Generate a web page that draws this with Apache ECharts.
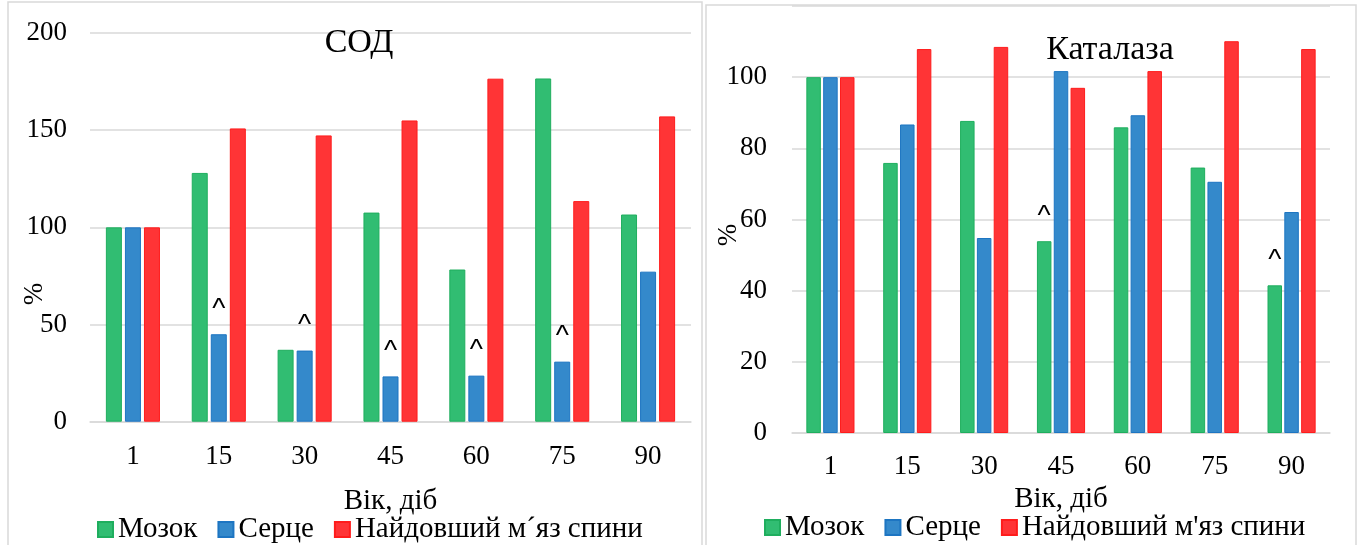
<!DOCTYPE html>
<html>
<head>
<meta charset="utf-8">
<script src="https://cdn.jsdelivr.net/npm/echarts@6/dist/echarts.min.js"></script>
<style>
  html, body { margin: 0; padding: 0; background: #ffffff; }
  #chart { width: 1363px; height: 545px; }
</style>
</head>
<body>
<div id="chart"></div>
<script>
// Age of animals, days
const categories = ['1', '15', '30', '45', '60', '75', '90'];

// SOD activity, % of day 1
const sodBrain  = [100, 128, 37, 107.6, 78.3, 176.6, 106.6];
const sodHeart  = [100, 45, 36.6, 23.3, 23.7, 30.9, 77.2];
const sodMuscle = [100, 150.9, 147.3, 155, 176.5, 113.5, 157.1];
// "^" significance marks on the heart bars
const sodHeartMarks = [0, 1, 1, 1, 1, 1, 0];

// Catalase activity, % of day 1
const catBrain  = [100, 75.9, 87.7, 53.9, 85.9, 74.6, 41.5];
const catHeart  = [100, 86.7, 54.8, 101.7, 89.3, 70.6, 62.1];
const catMuscle = [100, 107.9, 108.5, 97, 101.7, 110.1, 107.9];
// "^" significance marks on the brain bars
const catBrainMarks = [0, 0, 0, 1, 0, 0, 1];

const sodTicks = [0, 50, 100, 150, 200];
const catTicks = [0, 20, 40, 60, 80, 100];

const FONT = "'Liberation Serif', 'Times New Roman', serif";
const GREEN = { color: '#31bd72', borderColor: '#1fae5e', borderWidth: 1 };
const BLUE  = { color: '#3489cb', borderColor: '#1d75c2', borderWidth: 1 };
const RED   = { color: '#ff3436', borderColor: '#ff1c1c', borderWidth: 1 };

function withMarks(values, marks) {
  return values.map((v, i) => marks && marks[i]
    ? { value: v, label: { show: true } }
    : v);
}

const caretLabel = {
  show: false,
  position: 'top',
  distance: 11,
  formatter: '^',
  fontFamily: "'Liberation Sans', Arial, sans-serif",
  fontSize: 28,
  color: '#000'
};

function barSeries(name, values, style, axisIdx, width, gap, marks) {
  return {
    type: 'bar',
    name: name,
    xAxisIndex: axisIdx,
    yAxisIndex: axisIdx,
    barWidth: width,
    barGap: gap,
    itemStyle: style,
    label: caretLabel,
    emphasis: { disabled: true },
    data: withMarks(values, marks)
  };
}

const axisText = { fontFamily: FONT, fontSize: 27, color: '#000' };
const gridLine = { lineStyle: { color: '#d9d9d9', width: 1.5 } };
const legendText = { fontFamily: FONT, fontSize: 29, color: '#000' };

const LEFT_MUSCLE = 'Найдовший м\u00b4яз спини';
const RIGHT_MUSCLE = "Найдовший м'яз спини";

const option = {
  animation: false,
  backgroundColor: '#ffffff',
  textStyle: { fontFamily: FONT },
  title: [
    { text: 'СОД', left: 354, top: 21, textAlign: 'center',
      textStyle: { fontFamily: FONT, fontSize: 34, fontWeight: 'normal', color: '#000' } },
    { text: 'Каталаза', left: 1105, top: 28, textAlign: 'center',
      textStyle: { fontFamily: FONT, fontSize: 34, fontWeight: 'normal', color: '#000' } }
  ],
  legend: [
    {
      data: ['Мозок', 'Серце', LEFT_MUSCLE],
      left: 97, top: 515, padding: 0,
      icon: 'rect', itemWidth: 15, itemHeight: 15, itemGap: 20,
      textStyle: legendText
    },
    {
      data: ['Мозок', 'Серце', RIGHT_MUSCLE],
      left: 764, top: 513, padding: 0,
      icon: 'rect', itemWidth: 15, itemHeight: 15, itemGap: 20,
      textStyle: legendText
    }
  ],
  grid: [
    { left: 90, top: 33, width: 601, bottom: 123.3 },
    { left: 792, top: 6, width: 538, bottom: 112 }
  ],
  xAxis: [
    {
      type: 'category', gridIndex: 0, data: categories,
      axisLine: { lineStyle: { color: '#d9d9d9', width: 1.5 } },
      axisTick: { show: false },
      axisLabel: Object.assign({ margin: 22 }, axisText),
      name: 'Вік, діб', nameLocation: 'middle', nameGap: 65,
      nameTextStyle: legendText
    },
    {
      type: 'category', gridIndex: 1, data: categories,
      axisLine: { lineStyle: { color: '#d9d9d9', width: 1.5 } },
      axisTick: { show: false },
      axisLabel: Object.assign({ margin: 20 }, axisText),
      name: 'Вік, діб', nameLocation: 'middle', nameGap: 50,
      nameTextStyle: legendText
    }
  ],
  yAxis: [
    {
      type: 'value', gridIndex: 0,
      min: sodTicks[0], max: sodTicks[sodTicks.length - 1], interval: sodTicks[1] - sodTicks[0],
      axisLine: { show: false }, axisTick: { show: false },
      axisLabel: Object.assign({ margin: 23 }, axisText),
      splitLine: gridLine
    },
    {
      type: 'value', gridIndex: 1,
      min: catTicks[0], max: 120, interval: catTicks[1] - catTicks[0],
      axisLine: { show: false }, axisTick: { show: false },
      axisLabel: Object.assign({ margin: 25, showMaxLabel: false }, axisText),
      splitLine: gridLine
    }
  ],
  graphic: [
    // panel frames
    { type: 'rect', shape: { x: 8, y: 2, width: 694, height: 570 }, silent: true,
      style: { fill: 'none', stroke: '#d9d9d9', lineWidth: 1.5 } },
    { type: 'rect', shape: { x: 706, y: 5, width: 650, height: 570 }, silent: true,
      style: { fill: 'none', stroke: '#d9d9d9', lineWidth: 1.5 } },
    // y-axis units
    { type: 'text', x: 35, y: 294, rotation: Math.PI / 2, silent: true,
      style: { text: '%', font: "27px 'Liberation Serif', serif", fill: '#000', align: 'center', verticalAlign: 'middle' } },
    { type: 'text', x: 729, y: 235, rotation: Math.PI / 2, silent: true,
      style: { text: '%', font: "27px 'Liberation Serif', serif", fill: '#000', align: 'center', verticalAlign: 'middle' } }
  ],
  series: [
    barSeries('Мозок', sodBrain, GREEN, 0, 16, '19%'),
    barSeries('Серце', sodHeart, BLUE, 0, 16, '19%', sodHeartMarks),
    barSeries(LEFT_MUSCLE, sodMuscle, RED, 0, 16, '19%'),
    barSeries('Мозок', catBrain, GREEN, 1, 14.5, '16%', catBrainMarks),
    barSeries('Серце', catHeart, BLUE, 1, 14.5, '16%'),
    barSeries(RIGHT_MUSCLE, catMuscle, RED, 1, 14.5, '16%')
  ]
};

const chart = echarts.init(document.getElementById('chart'), null, { renderer: 'canvas' });
chart.setOption(option);
</script>
</body>
</html>
